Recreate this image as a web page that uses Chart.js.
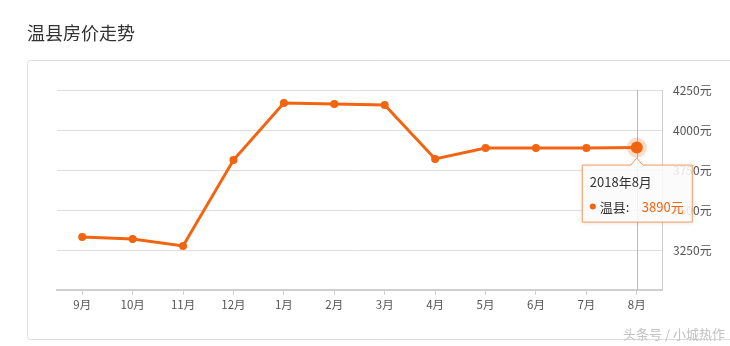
<!DOCTYPE html>
<html><head><meta charset="utf-8">
<script src="https://cdn.jsdelivr.net/npm/chart.js@4/dist/chart.umd.min.js"></script>
<style>
html,body{margin:0;padding:0;background:#fff;}
#wrap{position:relative;width:730px;height:346px;}
</style></head>
<body><div id="wrap"><canvas id="c" width="730" height="346"></canvas></div>
<script>
const title = '温县房价走势';
const categories = ['9月','10月','11月','12月','1月','2月','3月','4月','5月','6月','7月','8月'];
const seriesName = '温县';
const prices = [3331, 3319, 3275, 3812, 4169, 4162, 4156, 3819, 3887, 3888, 3888, 3890];
const yTicks = [3250, 3500, 3750, 4000, 4250];
const tooltipTitle = '2018年8月';
const activeIndex = 11;
const watermark = '头条号 / 小城热作';

const ORANGE = '#f2640f';
const FONT = '"Noto Sans CJK SC","Noto Sans",sans-serif';

const frame = {
  id: 'frame',
  beforeDraw(chart) {
    const ctx = chart.ctx;
    ctx.save();
    ctx.fillStyle = '#333';
    ctx.font = '18px ' + FONT;
    ctx.textBaseline = 'middle';
    ctx.fillText(title, 27, 33);
    ctx.strokeStyle = '#dcdcdc';
    ctx.lineWidth = 1;
    ctx.beginPath();
    if (ctx.roundRect) ctx.roundRect(27.5, 60.5, 720, 279, 3); else ctx.rect(27.5, 60.5, 720, 279);
    ctx.stroke();
    ctx.restore();
  },
  beforeDatasetsDraw(chart) {
    const ctx = chart.ctx;
    const pt = chart.getDatasetMeta(0).data[activeIndex];
    const a = chart.chartArea;
    ctx.save();
    ctx.strokeStyle = '#b8b8b8';
    ctx.lineWidth = 1;
    ctx.beginPath();
    ctx.moveTo(Math.round(pt.x) + 0.5, a.top);
    ctx.lineTo(Math.round(pt.x) + 0.5, a.bottom);
    ctx.stroke();
    ctx.restore();
  },
  afterDatasetsDraw(chart) {
    const ctx = chart.ctx;
    const pt = chart.getDatasetMeta(0).data[activeIndex];
    ctx.save();
    ctx.fillStyle = 'rgba(242,100,15,0.22)';
    ctx.beginPath(); ctx.arc(pt.x, pt.y, 10, 0, Math.PI * 2); ctx.fill();
    ctx.fillStyle = ORANGE;
    ctx.beginPath(); ctx.arc(pt.x, pt.y, 6, 0, Math.PI * 2); ctx.fill();
    ctx.restore();
  },
  afterDraw(chart) {
    const ctx = chart.ctx;
    const pt = chart.getDatasetMeta(0).data[activeIndex];
    const ax = pt.x;
    const bx = ax - 55, by = pt.y + 17, bw = 110, bh = 57;
    ctx.save();
    ctx.shadowColor = 'rgba(0,0,0,0.15)';
    ctx.shadowBlur = 4;
    ctx.shadowOffsetY = 1;
    ctx.fillStyle = 'rgba(255,255,255,0.86)';
    ctx.strokeStyle = '#f39a5e';
    ctx.lineWidth = 1;
    ctx.beginPath();
    ctx.moveTo(bx + 0.5, by + 0.5);
    ctx.lineTo(ax - 6, by + 0.5);
    ctx.lineTo(ax, by - 6.5);
    ctx.lineTo(ax + 6, by + 0.5);
    ctx.lineTo(bx + bw + 0.5, by + 0.5);
    ctx.lineTo(bx + bw + 0.5, by + bh + 0.5);
    ctx.lineTo(bx + 0.5, by + bh + 0.5);
    ctx.closePath();
    ctx.fill();
    ctx.shadowColor = 'transparent';
    ctx.stroke();
    ctx.textBaseline = 'middle';
    ctx.font = '13px ' + FONT;
    ctx.fillStyle = '#333';
    ctx.fillText(tooltipTitle, bx + 8, by + 17);
    ctx.fillStyle = ORANGE;
    ctx.beginPath(); ctx.arc(bx + 11, by + 42, 3, 0, Math.PI * 2); ctx.fill();
    ctx.fillStyle = '#333';
    ctx.fillText(seriesName + ':', bx + 18, by + 42);
    ctx.fillStyle = ORANGE;
    ctx.fillText(prices[activeIndex] + '元', bx + 60, by + 42);
    ctx.font = '13px ' + FONT;
    ctx.fillStyle = '#c2c2c2';
    ctx.textAlign = 'right';
    ctx.fillText(watermark, 725, 334);
    ctx.restore();
  }
};

new Chart(document.getElementById('c'), {
  type: 'line',
  data: {
    labels: categories,
    datasets: [{
      label: seriesName,
      data: prices,
      borderColor: ORANGE,
      backgroundColor: ORANGE,
      borderWidth: 3,
      pointRadius: prices.map((v, i) => i === activeIndex ? 0 : 4),
      pointBorderWidth: 0,
      pointBackgroundColor: ORANGE,
      tension: 0,
      fill: false
    }]
  },
  options: {
    responsive: false,
    animation: false,
    events: [],
    layout: { padding: { left: 57, top: 90, right: 0, bottom: 0 } },
    plugins: { legend: { display: false }, tooltip: { enabled: false } },
    scales: {
      x: {
        offset: true,
        grid: { offset: false, drawOnChartArea: false, drawTicks: true, tickLength: 5, color: '#cfcfcf' },
        border: { display: true, color: '#d0d0d0', width: 2 },
        ticks: { color: '#555', font: { size: 11.5, family: FONT }, padding: 3, maxRotation: 0, autoSkip: false },
        afterFit(s) { s.height = 56; }
      },
      y: {
        position: 'right',
        min: 3000, max: 4250,
        afterBuildTicks(s) { s.ticks = yTicks.map(v => ({ value: v })); },
        grid: { color: '#dedede', lineWidth: 1, drawTicks: false },
        border: { display: true, color: '#cfcfcf', width: 1 },
        ticks: { color: '#555', font: { size: 12, family: FONT }, padding: 11, callback: v => v + '元' },
        afterFit(s) { s.width = 68; }
      }
    }
  },
  plugins: [frame]
});
</script></body></html>
